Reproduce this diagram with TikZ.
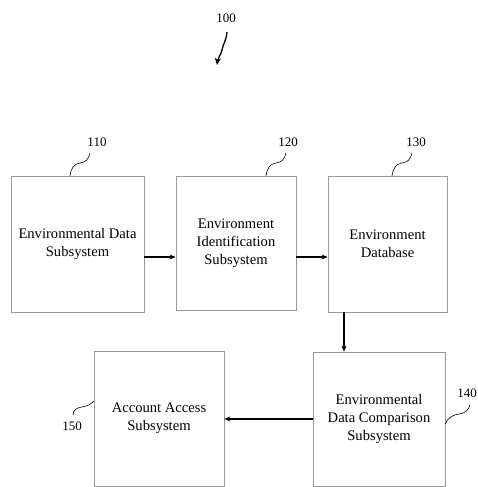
\documentclass[tikz,border=0pt]{standalone}
\usepackage{fontspec}
\setmainfont{Liberation Serif}
\usetikzlibrary{arrows.meta}
\begin{document}
\begin{tikzpicture}[x=1pt,y=-1pt,
  box/.style={draw=black!40, line width=0.7pt, inner sep=0pt, align=center,
              font=\fontsize{14.6}{18}\selectfont},
  conn/.style={line width=1.2pt, -{Stealth[length=6pt,width=5pt]}},
  lbl/.style={font=\fontsize{13}{15}\selectfont, inner sep=0pt},
  lead/.style={line width=0.6pt}]
\useasboundingbox (0,0) rectangle (478,487);

% boxes
\node[box, minimum width=133, minimum height=136] (n110) at (77.5,244) {Environmental Data\\Subsystem};
\node[box, minimum width=120, minimum height=134] (n120) at (236,243) {Environment\\Identification\\Subsystem};
\node[box, minimum width=119, minimum height=136] (n130) at (387.5,244) {Environment\\Database};
\node[box, minimum width=132, minimum height=134] (n140) at (379,419) {Environmental\\Data Comparison\\Subsystem};
\node[box, minimum width=130, minimum height=135] (n150) at (159,418.5) {Account Access\\Subsystem};

% reference labels
\node[lbl] (l100) at (226,18) {100};
\node[lbl] (l110) at (97,142) {110};
\node[lbl] (l120) at (288,142) {120};
\node[lbl] (l130) at (416,142) {130};
\node[lbl] (l140) at (467,393) {140};
\node[lbl] (l150) at (72,426) {150};

% connectors
\coordinate (a1) at ([yshift=-13pt]n110.east);
\draw[conn] (a1) -- (a1 -| n120.west);
\coordinate (a2) at ([yshift=-14pt]n120.east);
\draw[conn] (a2) -- (a2 -| n130.west);
\coordinate (a3) at ([xshift=-43.5pt]n130.south);
\draw[conn] (a3) -- (a3 |- n140.north);
\draw[conn] (n140.west) -- (n140.west -| n150.east);

% figure arrow 100
\coordinate (s100) at (227,32);
\coordinate (e100) at (217,65);
\draw[line width=1.3pt, -{Stealth[length=7pt,width=6pt]}] (s100) .. controls (226,42) and (223,44) .. (222,50) .. controls (221,55) and (218,57) .. (e100);

% leader squiggles
\coordinate (s110) at (90,153);
\coordinate (e110) at (70,176);
\draw[lead] (s110) .. controls (88,160) and (86,162) .. (80,163) .. controls (74,164) and (71,168) .. (e110);
\coordinate (s120) at (286,153);
\coordinate (e120) at (266,176);
\draw[lead] (s120) .. controls (284,160) and (282,162) .. (276,163) .. controls (270,164) and (267,168) .. (e120);
\coordinate (s130) at (412,153);
\coordinate (e130) at (392,176);
\draw[lead] (s130) .. controls (410,160) and (408,162) .. (402,163) .. controls (396,164) and (393,168) .. (e130);
\coordinate (s140) at (470,405);
\coordinate (e140) at (445,424);
\draw[lead] (s140) .. controls (468,411) and (465,413) .. (459,414) .. controls (452,415) and (448,418) .. (e140);
\coordinate (s150) at (73,415);
\coordinate (e150) at (94,401);
\draw[lead] (s150) .. controls (73,410) and (76,408) .. (82,407) .. controls (88,406) and (91,404) .. (e150);
\end{tikzpicture}
\end{document}
